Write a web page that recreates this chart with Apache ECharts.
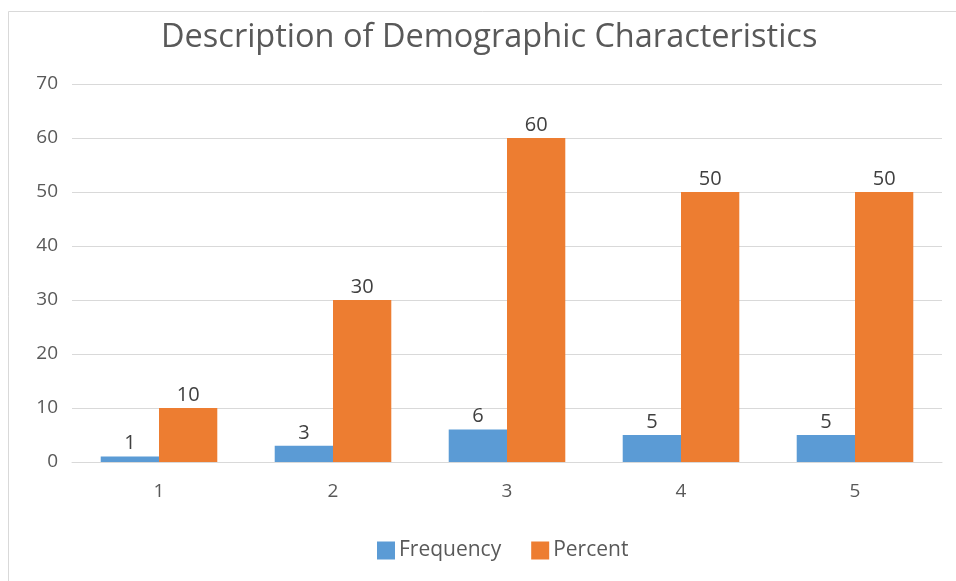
<!DOCTYPE html>
<html>
<head>
<meta charset="utf-8">
<script src="https://cdn.jsdelivr.net/npm/echarts@6/dist/echarts.min.js"></script>
<style>
  html, body { margin: 0; padding: 0; background: #fff; }
  #chart { width: 956px; height: 581px; }
</style>
</head>
<body>
<div id="chart"></div>
<script>
// Chart data
const categories = ['1', '2', '3', '4', '5'];
const frequency = [1, 3, 6, 5, 5];
const percent = [10, 30, 60, 50, 50];
const yTicks = { min: 0, max: 70, interval: 10 };

const font = '"Open Sans", "Noto Sans", sans-serif';
const chart = echarts.init(document.getElementById('chart'));

const labelStyle = {
  show: true,
  position: 'top',
  distance: 3,
  color: '#404040',
  fontSize: 20,
  fontFamily: font
};

chart.setOption({
  animation: false,
  backgroundColor: '#ffffff',
  graphic: [{
    type: 'rect',
    shape: { x: 8.5, y: 11.5, width: 980, height: 620 },
    style: { fill: 'none', stroke: '#d9d9d9', lineWidth: 1 },
    silent: true
  }],
  title: {
    text: 'Description of Demographic Characteristics',
    left: 156,
    top: 16,
    textStyle: { color: '#595959', fontSize: 32.5, fontWeight: 'normal', fontFamily: font }
  },
  legend: {
    top: 535,
    left: 372,
    itemWidth: 18,
    itemHeight: 18,
    itemGap: 30,
    icon: 'rect',
    textStyle: { color: '#595959', fontSize: 21, fontFamily: font, padding: [0, 0, 0, -1] },
    data: ['Frequency', 'Percent']
  },
  grid: { left: 72, right: 14, top: 84, bottom: 119 },
  xAxis: {
    type: 'category',
    data: categories,
    axisLine: { lineStyle: { color: '#d9d9d9', width: 1 } },
    axisTick: { show: false },
    axisLabel: { color: '#595959', fontSize: 19, fontFamily: font, margin: 20 }
  },
  yAxis: {
    type: 'value',
    min: yTicks.min,
    max: yTicks.max,
    interval: yTicks.interval,
    axisLine: { show: false },
    axisTick: { show: false },
    axisLabel: { color: '#595959', fontSize: 19, fontFamily: font, margin: 14 },
    splitLine: { lineStyle: { color: '#d9d9d9', width: 1 } }
  },
  series: [
    {
      name: 'Frequency',
      type: 'bar',
      data: frequency,
      barGap: '0%',
      barCategoryGap: '33%',
      itemStyle: { color: '#5b9bd5' },
      label: labelStyle
    },
    {
      name: 'Percent',
      type: 'bar',
      data: percent,
      itemStyle: { color: '#ed7d31' },
      label: labelStyle
    }
  ]
});
</script>
</body>
</html>
